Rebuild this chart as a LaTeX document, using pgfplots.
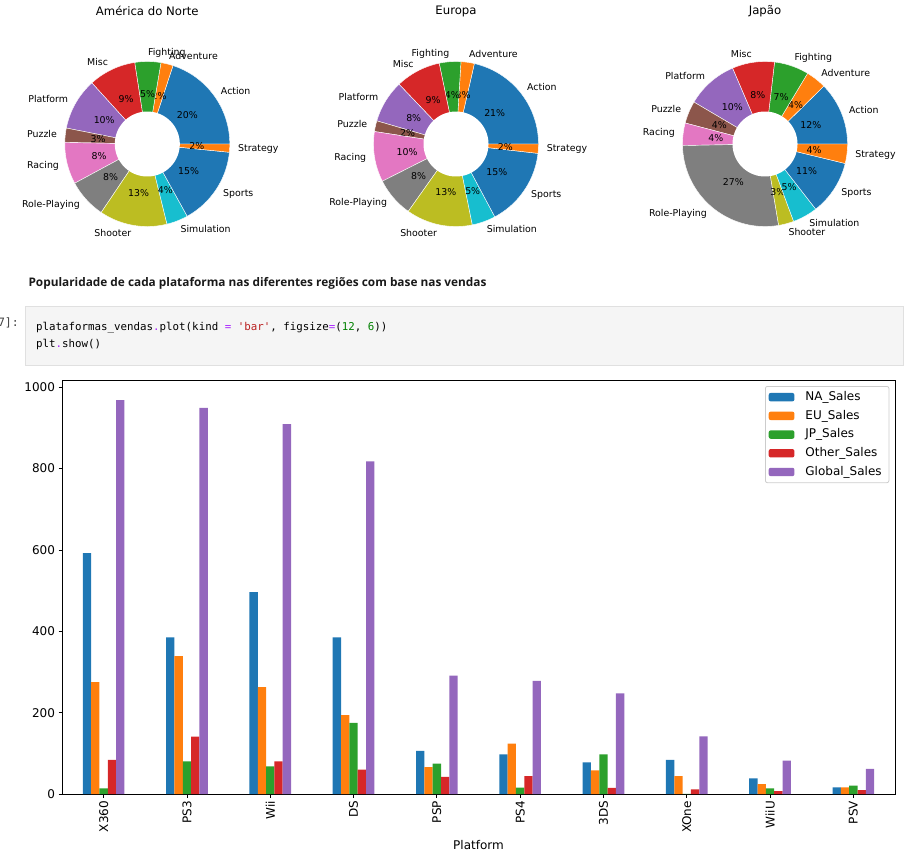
\documentclass[border=0pt]{standalone}
\usepackage{pgfplots}
\pgfplotsset{compat=1.18}
\usepackage{pgfplotstable}
\usepackage{graphicx}
\usepackage{fontspec}
\setmainfont{DejaVu Sans}
\newfontfamily\codefont{DejaVu Sans Mono}[Ligatures=TeXOff]
\newfontfamily\headfont{Open Sans}
\definecolor{tabblue}{HTML}{1F77B4}
\definecolor{taborange}{HTML}{FF7F0E}
\definecolor{tabgreen}{HTML}{2CA02C}
\definecolor{tabred}{HTML}{D62728}
\definecolor{tabpurple}{HTML}{9467BD}
\definecolor{tabbrown}{HTML}{8C564B}
\definecolor{tabpink}{HTML}{E377C2}
\definecolor{tabgray}{HTML}{7F7F7F}
\definecolor{tabolive}{HTML}{BCBD22}
\definecolor{tabcyan}{HTML}{17BECF}
\definecolor{boxbg}{HTML}{F5F5F5}
\definecolor{boxedge}{HTML}{E0E0E0}
\definecolor{oppurple}{HTML}{AA22FF}
\definecolor{strred}{HTML}{BA2121}
\definecolor{numgreen}{HTML}{008000}
\definecolor{promptgray}{HTML}{424242}

\tikzset{pielab/.style={font=\fontsize{9.4}{11}\selectfont, inner sep=0pt, text=black}}

% donut: list of value/label/colour
\newcommand\donut[1]{%
  \xdef\dtot{0}%
  \foreach \dv/\dl/\dc in {#1}{\pgfmathparse{\dtot+\dv}\xdef\dtot{\pgfmathresult}}%
  \xdef\dcum{0}%
  \foreach \dv/\dl/\dc in {#1}{%
    \pgfmathsetmacro\da{\dcum/\dtot*360}%
    \pgfmathsetmacro\db{(\dcum+\dv)/\dtot*360}%
    \pgfmathsetmacro\dm{(\da+\db)/2}%
    \pgfmathtruncatemacro\dpct{round(100*\dv/\dtot)}%
    \pgfmathsetmacro\lx{1.1*cos(\dm)}%
    \pgfmathsetmacro\ly{1.1*sin(\dm)}%
    \pgfmathsetmacro\px{0.6*cos(\dm)}%
    \pgfmathsetmacro\py{0.6*sin(\dm)}%
    \ifdim\lx pt>0pt \def\an{west}\else\def\an{east}\fi
    \pgfmathparse{\dcum+\dv}\xdef\dcum{\pgfmathresult}%
    \edef\tmp{\noexpand\addplot[fill=\dc, draw=white, line width=0.4pt, data cs=polar, domain=\da:\db, samples=40] {1} -- (axis cs:0,0) -- cycle;
      \noexpand\node[pielab, anchor=\an] at (axis cs:\lx,\ly) {\dl};
      \noexpand\node[pielab] at (axis cs:\px,\py) {\dpct\noexpand\%};}%
    \tmp
  }%
  \addplot[fill=white, draw=none, data cs=polar, domain=0:360, samples=91] {0.394} -- cycle;
}

\pgfplotsset{pieaxis/.style={anchor=center, x=82.5pt, y=82.5pt, xmin=-1.6, xmax=1.6, ymin=-1.2, ymax=1.2, hide axis, clip=false}}

\pgfplotstableread{
x NA EU JP Other Global
0 592 275 14 84 968
1 385 339 80 141 949
2 496 263 68 80 909
3 385 194 175 60 818
4 106 66 75 42 291
5 97.5 124 16 44 278
6 78 58 97.5 15 247.5
7 84 44 0.3 11.5 142
8 38.5 24.6 14 7.4 82
9 16.4 16.4 20.5 9.8 62
}\salesdata

\begin{document}
\begin{tikzpicture}
\useasboundingbox (0,0) rectangle (917pt,-857pt);

% ---------- pie titles ----------
\node[font=\fontsize{11.7}{14}\selectfont] at (147.3pt,-11pt) {América do Norte};
\node[font=\fontsize{11.7}{14}\selectfont] at (456pt,-11pt) {Europa};
\node[font=\fontsize{11.7}{14}\selectfont] at (765pt,-11pt) {Japão};

% ---------- North America ----------
\begin{axis}[pieaxis, at={(147.3pt,-144pt)}]
\donut{20/Action/tabblue, 2.4/Adventure/taborange, 5.1/Fighting/tabgreen, 9.3/Misc/tabred, 10.2/Platform/tabpurple, 2.8/Puzzle/tabbrown, 8.2/Racing/tabpink, 7.7/Role-Playing/tabgray, 13.3/Shooter/tabolive, 4.2/Simulation/tabcyan, 15.4/Sports/tabblue, 1.6/Strategy/taborange}
\end{axis}

% ---------- Europe ----------
\begin{axis}[pieaxis, at={(456pt,-144pt)}]
\donut{21.3/Action/tabblue, 2.6/Adventure/taborange, 4.2/Fighting/tabgreen, 8.8/Misc/tabred, 8.3/Platform/tabpurple, 2.1/Puzzle/tabbrown, 9.8/Racing/tabpink, 7.7/Role-Playing/tabgray, 12.9/Shooter/tabolive, 4.6/Simulation/tabcyan, 15.3/Sports/tabblue, 1.8/Strategy/taborange}
\end{axis}

% ---------- Japan ----------
\begin{axis}[pieaxis, at={(765pt,-144pt)}]
\donut{12.4/Action/tabblue, 4.0/Adventure/taborange, 6.8/Fighting/tabgreen, 8.3/Misc/tabred, 10.1/Platform/tabpurple, 4.4/Puzzle/tabbrown, 4.4/Racing/tabpink, 27.4/Role-Playing/tabgray, 3.0/Shooter/tabolive, 4.9/Simulation/tabcyan, 10.7/Sports/tabblue, 3.8/Strategy/taborange}
\end{axis}

% ---------- heading and code cell ----------
\node[anchor=west, inner sep=0pt] at (28.3pt,-283.5pt) {\resizebox{458pt}{!}{\headfont\bfseries\color{black!90}Popularidade de cada plataforma nas diferentes regiões com base nas vendas}};
\filldraw[fill=boxbg, draw=boxedge, line width=0.8pt] (25.7pt,-306.2pt) rectangle (903.3pt,-365.3pt);
\node[anchor=east, inner sep=0pt, text=promptgray, font=\codefont\fontsize{11.5}{13}\selectfont] at (19pt,-322.7pt) {7]:};
\node[anchor=west, inner sep=0pt, font=\codefont\fontsize{10.8}{13}\selectfont] at (36pt,-328pt) {plataformas\_vendas\textcolor{oppurple}{.}plot(kind \textcolor{oppurple}{=} \textcolor{strred}{'bar'}, figsize\textcolor{oppurple}{=}(\textcolor{numgreen}{12}, \textcolor{numgreen}{6}))};
\node[anchor=west, inner sep=0pt, font=\codefont\fontsize{10.8}{13}\selectfont] at (36pt,-344pt) {plt\textcolor{oppurple}{.}show()};

% ---------- bar chart ----------
\begin{axis}[
  at={(62pt,-794pt)}, anchor=south west,
  scale only axis, width=833pt, height=413.3pt,
  xmin=-0.5, xmax=9.5, ymin=0, ymax=1016,
  xtick={0,...,9},
  xticklabels={X360,PS3,Wii,DS,PSP,PS4,3DS,XOne,WiiU,PSV},
  ytick={0,200,400,600,800,1000},
  tick align=outside, tick pos=left,
  major tick length=3.5pt,
  tick style={black, line width=0.8pt},
  axis line style={line width=0.8pt},
  ticklabel style={font=\fontsize{12}{14}\selectfont},
  xticklabel style={rotate=90, anchor=east},
  /pgf/number format/assume math mode=true,
  /pgf/number format/1000 sep={},
  legend style={at={(0.9932,0.9872)}, anchor=north east, draw=black!20, line width=0.8pt,
    rounded corners=2pt, fill=white, font=\fontsize{12}{14}\selectfont,
    inner xsep=3.3pt, inner ysep=4.5pt, row sep=6.2pt, column sep=7pt,
    nodes={inner xsep=4pt, inner ysep=0pt, text height=9.5pt, text depth=3pt}},
  legend cell align=left,
  legend image code/.code={\fill[#1] (0pt,-4.2pt) rectangle (25.7pt,4.2pt);},
]
\addplot[ybar, bar width=0.1, bar shift=-0.2, fill=tabblue, draw=none] table[x=x, y=NA] {\salesdata};
\addplot[ybar, bar width=0.1, bar shift=-0.1, fill=taborange, draw=none] table[x=x, y=EU] {\salesdata};
\addplot[ybar, bar width=0.1, bar shift=0, fill=tabgreen, draw=none] table[x=x, y=JP] {\salesdata};
\addplot[ybar, bar width=0.1, bar shift=0.1, fill=tabred, draw=none] table[x=x, y=Other] {\salesdata};
\addplot[ybar, bar width=0.1, bar shift=0.2, fill=tabpurple, draw=none] table[x=x, y=Global] {\salesdata};
\legend{NA\_Sales, EU\_Sales, JP\_Sales, Other\_Sales, Global\_Sales}
\end{axis}
\node[font=\fontsize{12}{14}\selectfont] at (478.5pt,-845pt) {Platform};
\end{tikzpicture}
\end{document}
